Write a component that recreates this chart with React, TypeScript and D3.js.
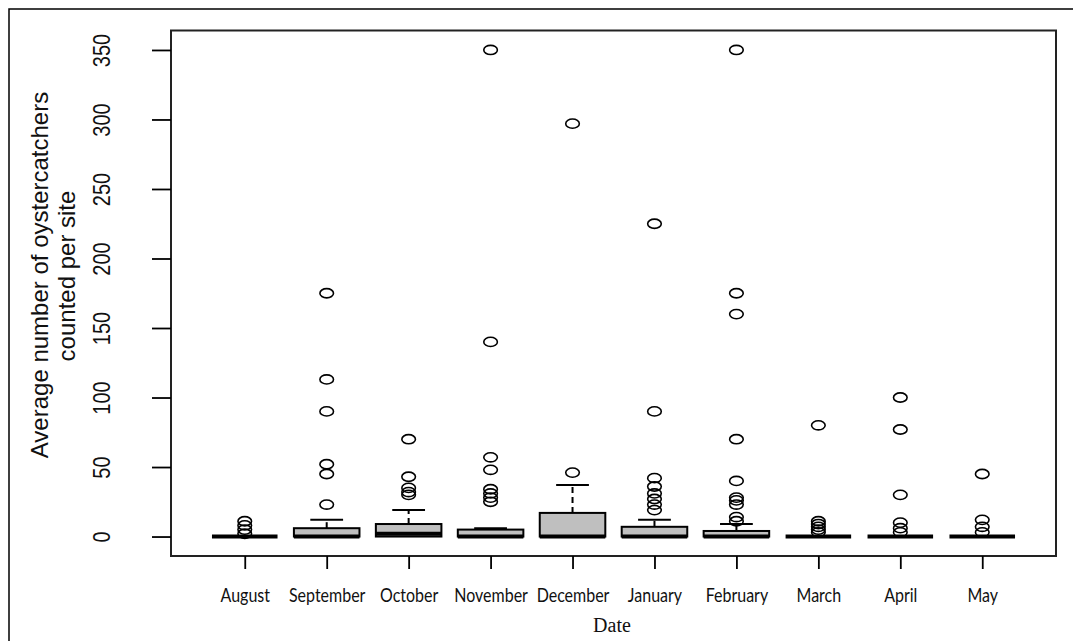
import React, { useEffect, useRef } from 'react';
import * as d3 from 'd3';

// months on the x axis
const months = ['August', 'September', 'October', 'November', 'December', 'January', 'February', 'March', 'April', 'May'];

// box statistics
const q1 = [0, 0, 0, 0, 0, 0, 0, 0, 0, 0];
const medians = [0, 0, 2, 0, 0, 0, 0, 0, 0, 0];
const q3 = [0, 6, 9, 5, 17, 7, 4, 0, 0, 0];
const whiskerLow = [0, 0, 0, 0, 0, 0, 0, 0, 0, 0];
const whiskerHigh = [0, 12, 19, 6, 37, 12, 9, 0, 0, 0];

const outliers = [
    [2, 5, 8, 11],
    [23, 45, 52, 90, 113, 175],
    [30, 32, 35, 43, 70],
    [25, 28, 31, 34, 48, 57, 140, 350],
    [46, 297],
    [19, 23, 27, 31, 36, 42, 90, 225],
    [11, 14, 23, 26, 28, 40, 70, 160, 175, 350],
    [3, 5, 7, 9, 11, 80],
    [3, 6, 10, 30, 77, 100],
    [3, 7, 12, 45]
];

const yTicks = [0, 50, 100, 150, 200, 250, 300, 350];

export default function App() {
    const ref = useRef<SVGSVGElement>(null);

    useEffect(() => {
        const svg = d3.select(ref.current);
        svg.selectAll('*').remove();

        // plot region
        let left = 171, right = 1056, top = 30.5, bottom = 556;

        let x = d3.scaleLinear().domain([0.1, 10.9]).range([left, right]);
        let y = d3.scaleLinear().domain([-14, 364]).range([bottom, top]);
        let boxHalf = (x(1.4) - x(1));
        let capHalf = boxHalf / 2;

        // outer frame
        svg.append('rect')
            .attr('x', 9).attr('y', 9)
            .attr('width', 1080).attr('height', 650)
            .attr('fill', 'none').attr('stroke', '#000').attr('stroke-width', 1.5);

        let data = months.map((m, i) => ({
            month: m, pos: i + 1,
            q1: q1[i], med: medians[i], q3: q3[i],
            lo: whiskerLow[i], hi: whiskerHigh[i], out: outliers[i]
        }));

        let boxes = svg.append('g').selectAll('g').data(data).join('g');

        // whiskers (dashed)
        boxes.filter(d => d.hi > d.q3).append('line')
            .attr('x1', d => x(d.pos)).attr('x2', d => x(d.pos))
            .attr('y1', d => y(d.q3)).attr('y2', d => y(d.hi))
            .attr('stroke', '#000').attr('stroke-width', 2)
            .attr('stroke-dasharray', '6,4');
        boxes.filter(d => d.hi > d.q3).append('line')
            .attr('x1', d => x(d.pos) - capHalf).attr('x2', d => x(d.pos) + capHalf)
            .attr('y1', d => y(d.hi)).attr('y2', d => y(d.hi))
            .attr('stroke', '#000').attr('stroke-width', 2);

        // boxes
        boxes.append('rect')
            .attr('x', d => x(d.pos) - boxHalf)
            .attr('width', boxHalf * 2)
            .attr('y', d => y(d.q3))
            .attr('height', d => y(d.q1) - y(d.q3))
            .attr('fill', '#bfbfbf')
            .attr('stroke', '#000').attr('stroke-width', 2);

        // medians
        boxes.append('line')
            .attr('x1', d => x(d.pos) - boxHalf).attr('x2', d => x(d.pos) + boxHalf)
            .attr('y1', d => y(d.med)).attr('y2', d => y(d.med))
            .attr('stroke', '#000').attr('stroke-width', 4);

        // outliers
        boxes.selectAll('ellipse').data(d => d.out.map(v => ({ pos: d.pos, v }))).join('ellipse')
            .attr('cx', d => x(d.pos)).attr('cy', d => y(d.v))
            .attr('rx', 6.8).attr('ry', 4.6)
            .attr('fill', 'none').attr('stroke', '#000').attr('stroke-width', 1.6);

        // plot box
        svg.append('rect')
            .attr('x', left).attr('y', top)
            .attr('width', right - left).attr('height', bottom - top)
            .attr('fill', 'none').attr('stroke', '#222').attr('stroke-width', 2);

        // y axis
        let yAxis = svg.append('g')
            .attr('transform', 'translate(' + left + ',0)')
            .call(d3.axisLeft(y).tickValues(yTicks).tickSize(19));
        yAxis.select('.domain').remove();
        yAxis.selectAll('line').attr('stroke', '#000').attr('stroke-width', 1.8);
        yAxis.selectAll('text')
            .attr('transform', 'rotate(-90) scale(1,1.15)')
            .attr('x', 0).attr('y', -61 / 1.15).attr('dy', null)
            .attr('text-anchor', 'middle')
            .attr('font-family', 'Liberation Sans, Arial, sans-serif')
            .attr('font-size', 20).attr('fill', '#111');

        // x axis
        let xAxis = svg.append('g')
            .attr('transform', 'translate(0,' + bottom + ')')
            .call(d3.axisBottom(x).tickValues(d3.range(1, 11)).tickSize(13)
                .tickFormat(d => months[(d as number) - 1]));
        xAxis.select('.domain').remove();
        xAxis.selectAll('line').attr('stroke', '#000').attr('stroke-width', 1.8);
        xAxis.selectAll('text')
            .attr('transform', 'scale(1,1.2)')
            .attr('y', 46 / 1.2).attr('dy', null)
            .attr('font-family', 'Lato, "Open Sans", sans-serif')
            .attr('font-size', 16).attr('fill', '#111');

        // axis titles
        svg.append('text')
            .attr('x', 612).attr('y', 632)
            .attr('text-anchor', 'middle')
            .attr('font-family', 'Liberation Serif, Times New Roman, serif')
            .attr('font-size', 20).attr('fill', '#111')
            .text('Date');

        let yTitle = svg.append('g')
            .attr('font-family', 'Liberation Sans, Arial, sans-serif')
            .attr('font-size', 24).attr('fill', '#111')
            .attr('text-anchor', 'middle');
        yTitle.append('text')
            .attr('transform', 'translate(48,275) rotate(-90)')
            .text('Average number of oystercatchers');
        yTitle.append('text')
            .attr('transform', 'translate(75,276) rotate(-90)')
            .text('counted per site');
    }, []);

    return (
        <svg ref={ref} width={1073} height={641}
            style={{ position: 'absolute', left: 0, top: 0, background: '#fff' }} />
    );
}
